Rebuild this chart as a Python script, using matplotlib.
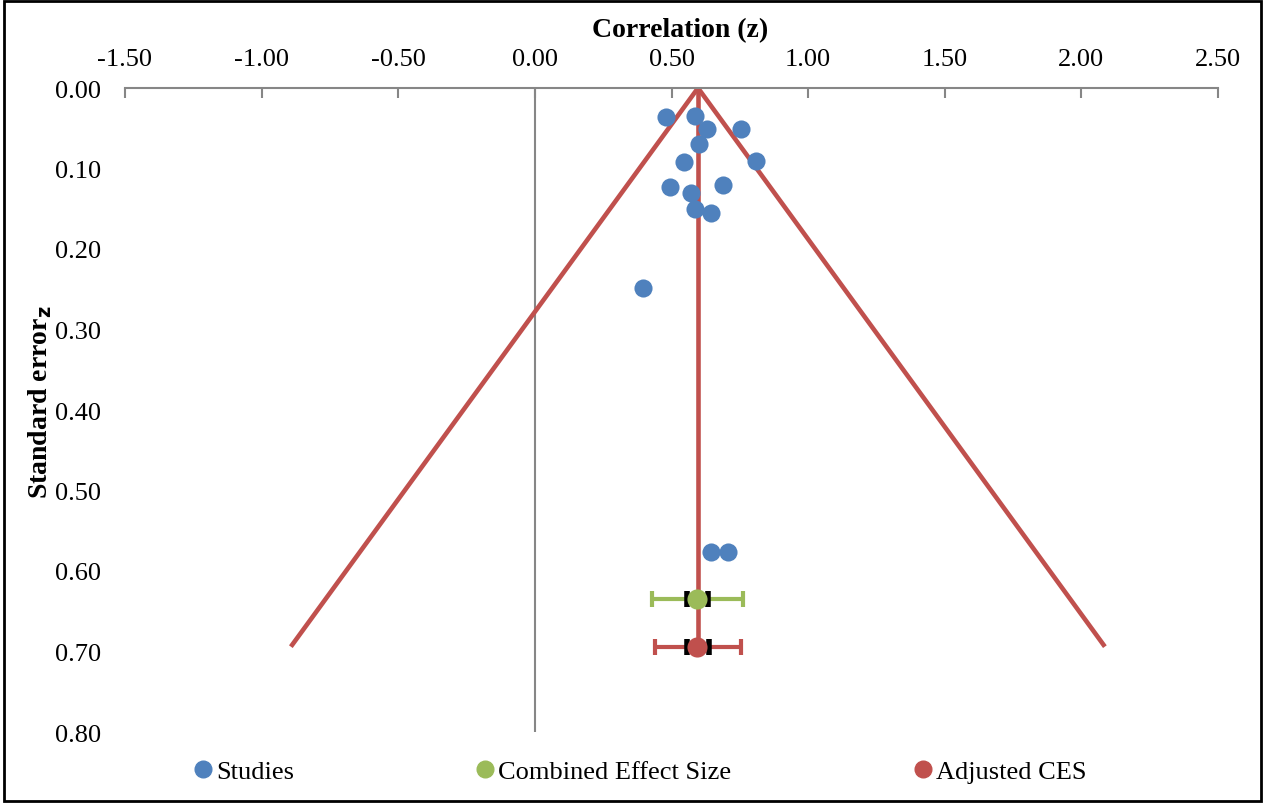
import matplotlib
matplotlib.use("Agg")
import matplotlib.pyplot as plt
from matplotlib.lines import Line2D

plt.rcParams['font.family'] = ['Liberation Serif', 'DejaVu Serif']

# Studies (effect size z, standard error)
study_z = [0.479, 0.586, 0.629, 0.754, 0.600, 0.545, 0.809, 0.494, 0.688, 0.571, 0.586, 0.644, 0.395, 0.644, 0.706]
study_se = [0.036, 0.035, 0.051, 0.051, 0.070, 0.092, 0.091, 0.123, 0.120, 0.130, 0.150, 0.155, 0.248, 0.576, 0.576]

# Funnel lines
funnel_left_x = [0.597, -0.893]
funnel_right_x = [0.597, 2.086]
funnel_y = [0.0, 0.694]
center_x = [0.597, 0.597]

# Combined effect size
ces_z = 0.593
ces_se = 0.635
ces_ci = (0.428, 0.761)
ces_inner = (0.556, 0.633)

# Adjusted CES
adj_z = 0.593
adj_se = 0.694
adj_ci = (0.439, 0.754)
adj_inner = (0.556, 0.636)

xticks = [-1.5, -1.0, -0.5, 0.0, 0.5, 1.0, 1.5, 2.0, 2.5]
yticks = [0.0, 0.1, 0.2, 0.3, 0.4, 0.5, 0.6, 0.7, 0.8]
legend_labels = ['Studies', 'Combined Effect Size', 'Adjusted CES']

blue = '#4F81BD'
red = '#C0504D'
green = '#9BBB59'

fig = plt.figure(figsize=(12.65, 8.04), dpi=100)
ax = fig.add_axes([125/1265, 1 - 733/804, (1218-125)/1265, (733-89)/804])

ax.plot(funnel_left_x, funnel_y, color=red, lw=3.3, solid_capstyle='butt', zorder=2)
ax.plot(funnel_right_x, funnel_y, color=red, lw=3.3, solid_capstyle='butt', zorder=2)
ax.plot(center_x, funnel_y, color=red, lw=3.3, solid_capstyle='butt', zorder=2)

ax.scatter(study_z, study_se, s=170, color=blue, zorder=4, linewidths=0)


def draw_ces(z, se, ci, inner, col):
    ax.errorbar([z], [se], xerr=[[z - ci[0]], [ci[1] - z]],
                fmt='none', ecolor=col, elinewidth=3, capsize=6, capthick=3, zorder=3)
    ax.errorbar([z], [se], xerr=[[z - inner[0]], [inner[1] - z]],
                fmt='none', ecolor='black', elinewidth=0, capsize=6, capthick=4, zorder=3)
    ax.scatter([z], [se], s=210, color=col, zorder=5, linewidths=0)


draw_ces(ces_z, ces_se, ces_ci, ces_inner, green)
draw_ces(adj_z, adj_se, adj_ci, adj_inner, red)

ax.set_xlim(-1.5, 2.5)
ax.set_ylim(0.8, 0.0)
ax.set_xticks(xticks)
ax.set_xticklabels([f"{v:.2f}" for v in xticks])
ax.set_yticks(yticks)
ax.set_yticklabels([f"{v:.2f}" for v in yticks])

ax.xaxis.tick_top()
ax.xaxis.set_label_position('top')
for s in ['left', 'right', 'bottom']:
    ax.spines[s].set_visible(False)
ax.spines['top'].set_color('#868686')
ax.spines['top'].set_linewidth(1.5)
ax.axvline(0, color='#868686', lw=1.5, zorder=1)
ax.tick_params(axis='x', direction='in', length=7, width=1.5, color='#868686',
               labelsize=19, pad=13)
ax.tick_params(axis='y', length=0, labelsize=19, pad=17)

ax.set_xlabel('Correlation (z)', fontsize=20, fontweight='bold')
ax.xaxis.set_label_coords(0.508, (733 - 31) / 644, transform=ax.transAxes)
ax.xaxis.label.set_va('center')
ax.set_ylabel('Standard error$_\\mathbf{z}$', fontsize=20, fontweight='bold')
ax.yaxis.set_label_coords((40 - 125) / 1093, (733 - 402) / 644, transform=ax.transAxes)
ax.yaxis.label.set_va('center')

colors = [blue, green, red]
xpos = [190/1265, 472/1265, 910/1265]
for lab, col, xp in zip(legend_labels, colors, xpos):
    h = Line2D([], [], marker='o', ls='none', color=col, markersize=12)
    fig.legend([h], [lab], loc='center left', bbox_to_anchor=(xp, 1 - 772/804),
               frameon=False, fontsize=19, handletextpad=0.0, handlelength=1.0,
               borderaxespad=0, borderpad=0)

border = plt.Rectangle((0.003, 0.003), 0.994, 0.994, transform=fig.transFigure,
                       fill=False, edgecolor='black', lw=2)
fig.patches.append(border)

fig.savefig('out.png', dpi=100)
